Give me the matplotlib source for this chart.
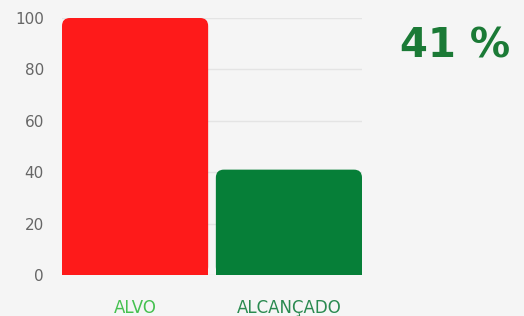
import matplotlib
matplotlib.use("Agg")
import matplotlib.pyplot as plt
from matplotlib.patches import FancyBboxPatch, Rectangle

categories = ["ALVO", "ALCANÇADO"]
values = [100, 41]
bar_colors = ["#fe1a1a", "#067f38"]
label_colors = ["#45c150", "#2a8a50"]
y_ticks = [0, 20, 40, 60, 80, 100]
headline = "41 %"

plt.rcParams['font.family'] = ['DejaVu Sans']
W, H = 524, 316
fig = plt.figure(figsize=(W / 100, H / 100), dpi=100, facecolor="#f5f5f5")
ax = fig.add_axes([62 / W, (H - 275) / H, 300 / W, 257 / H])
ax.set_facecolor("#f5f5f5")

x = list(range(len(categories)))
bars = ax.bar(x, values, width=0.95, color=bar_colors, zorder=2)
ax.set_xlim(-0.475, 1.475)
ax.set_ylim(0, 100)

# rounded top corners
xpx = 300 / 1.95
ypx = 257 / 100
r = 8 / xpx
aspect = xpx / ypx
for b, c in zip(bars, bar_colors):
    b.set_visible(False)
    x0, w, h = b.get_x(), b.get_width(), b.get_height()
    ax.add_patch(FancyBboxPatch((x0, 0), w, h,
                                boxstyle=f"round,pad=0,rounding_size={r}",
                                mutation_aspect=aspect, fc=c, ec="none", zorder=2))
    ax.add_patch(Rectangle((x0, 0), w, h / 2, fc=c, ec="none", zorder=2))

ax.set_yticks(y_ticks)
ax.yaxis.grid(True, color="#e4e4e4", linewidth=1, zorder=0)
ax.tick_params(axis="y", length=0, pad=13, labelsize=11, labelcolor="#666666")
ax.set_xticks(x)
ax.set_xticklabels(categories, fontsize=12)
for lbl, c in zip(ax.get_xticklabels(), label_colors):
    lbl.set_color(c)
ax.tick_params(axis="x", length=0, pad=17)
for s in ax.spines.values():
    s.set_visible(False)

fig.text(455 / W, 1 - 47 / H, headline, ha="center", va="center",
         fontsize=29, fontweight="bold", color="#1b7a36")

fig.savefig("out.png", dpi=100, facecolor=fig.get_facecolor())
